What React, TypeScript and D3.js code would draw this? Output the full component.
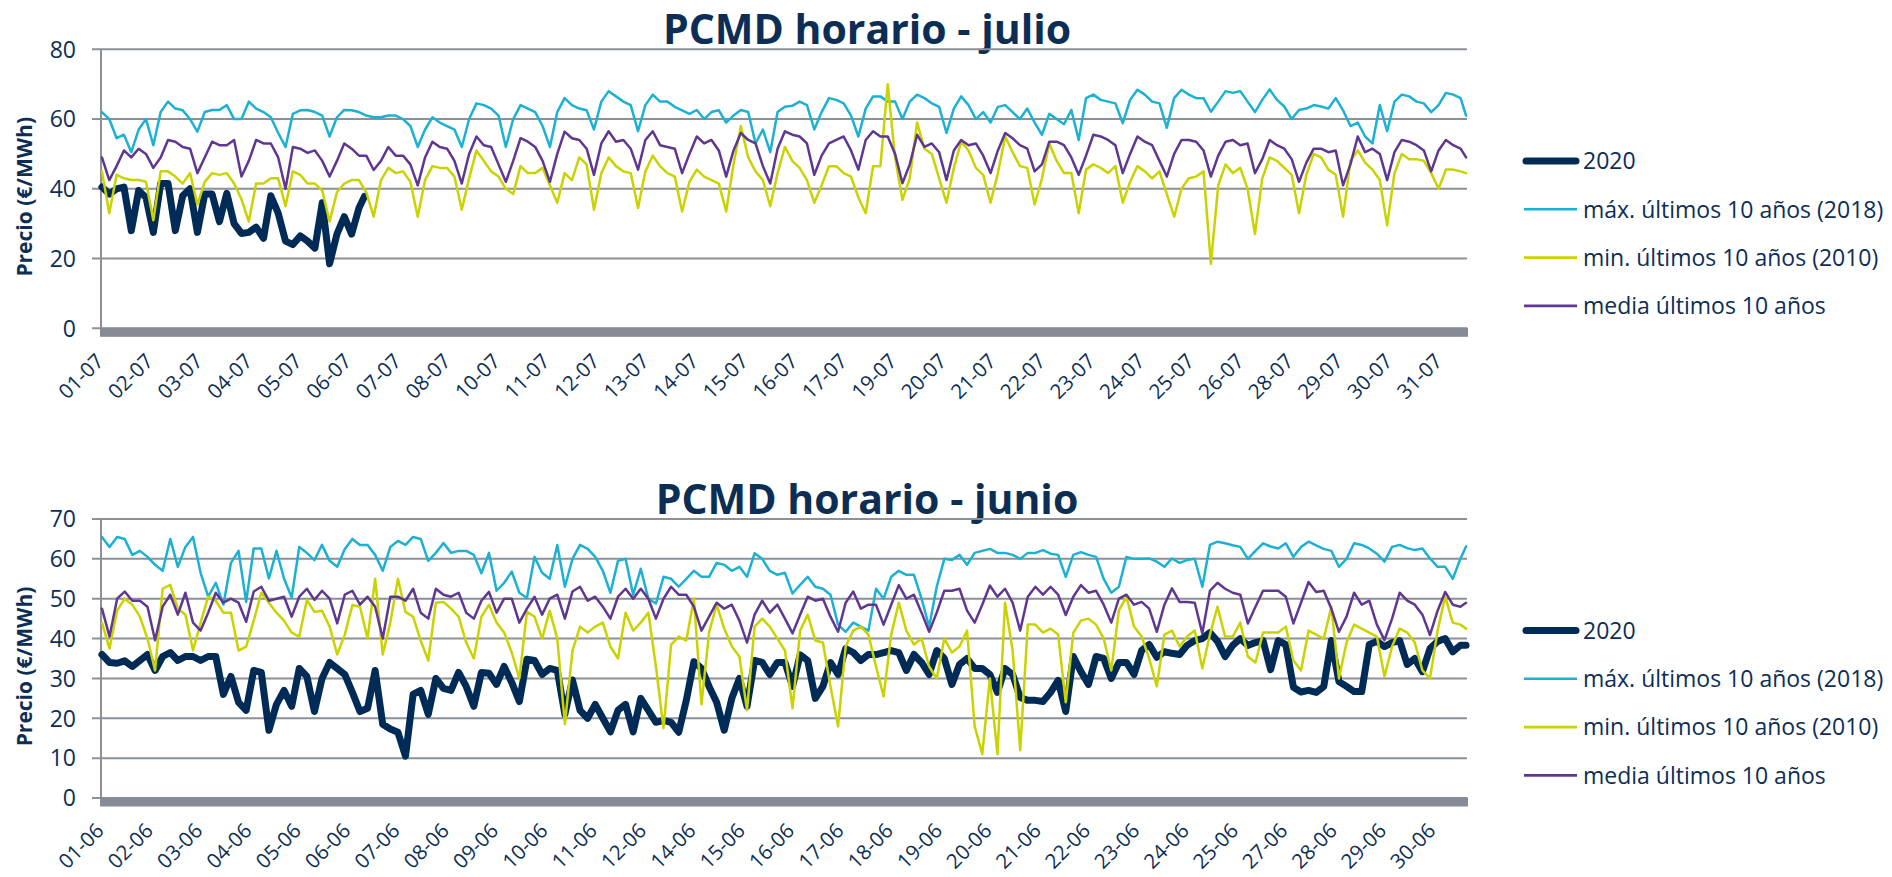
import React from 'react';
import * as d3 from 'd3';

// el último valor de cada serie es la última hora dibujada.

const seriesNames = ['2020', 'máx. últimos 10 años (2018)', 'min. últimos 10 años (2010)', 'media últimos 10 años'];
const seriesColors = ['#002b57', '#1cb1d3', '#cad300', '#5f3791'];
const seriesWidths = [7, 2.5, 2.5, 2.5];

// ---- julio ----
const julio2020 = [
  40.5, 38.5, 40, 40.5, 28, 39.5,
  37.5, 27.5, 41.5, 41.5, 28, 38,
  40, 27.5, 38.5, 38.5, 30.6, 38.7,
  30, 27.2, 27.5, 29, 25.8, 38,
  33, 25, 24, 26.5, 25, 23,
  36, 18.5, 27, 32, 27, 34.5,
  37.8,
];
const julioMax = [
  62, 60, 54.5, 55.5, 50.5, 57,
  60, 52.5, 62, 65, 63, 62.5,
  60, 56.4, 62, 62.6, 62.6, 64,
  60, 60, 65, 63, 62, 60.5,
  56, 52, 61.5, 62.5, 62.6, 62,
  61, 55, 60.5, 62.6, 62.5, 62,
  61, 60.5, 60.5, 61, 61, 60,
  58, 52, 57, 60.5, 59, 58,
  57, 52, 60, 64.5, 64, 63,
  61, 52, 60, 64, 63, 62,
  58, 52, 62, 66, 64, 63,
  62.5, 57, 65, 68, 66.5, 65,
  64, 56.5, 64, 67, 65, 65,
  63.5, 62.5, 61.5, 62.6, 60, 62,
  62.5, 59, 61, 62.6, 62, 53,
  57, 50.5, 62, 63.5, 63.8, 65,
  64, 57, 62, 66, 65.5, 64.5,
  61, 55, 63, 66.5, 66.5, 65,
  65, 60, 65, 67, 66, 64.5,
  63.5, 56, 63, 66.5, 64, 60,
  62, 59, 63.5, 64, 62, 60,
  63, 59, 55.5, 61.5, 60, 58.5,
  62.6, 54, 66, 67, 65.5, 65,
  64.5, 58.8, 65.5, 68.4, 67, 65,
  64.5, 57.5, 66, 68.4, 67, 66,
  66, 62.1, 65, 68, 67.5, 68,
  65, 62, 65.5, 68.5, 65.5, 63.6,
  60, 62.6, 63, 64, 63.6, 63,
  66, 62.5, 58, 59, 55, 53,
  64, 56.5, 65, 67, 66.5, 65,
  64.5, 62, 64, 67.5, 67, 66,
  61,
];
const julioMin = [
  45, 33, 44, 43, 42.5, 42.5,
  42, 31, 45, 45, 43.5, 41.5,
  44.5, 35.5, 42, 44.5, 44, 44.5,
  41.5, 37, 30.6, 41.5, 41.5, 43,
  43, 35, 45, 44, 41.5, 41.5,
  39.5, 30.6, 39, 41.5, 42.5, 42.5,
  39, 32, 42.5, 46, 44.5, 45,
  42, 32, 42.5, 46.5, 46, 46,
  43.5, 34, 43, 51, 48, 45,
  43.5, 40, 38.5, 46.5, 44.5, 44.5,
  46, 41, 36, 44.5, 42.5, 49,
  47, 34, 44.5, 49, 46.5, 45,
  44.5, 34.5, 45, 49.5, 46.5, 44.5,
  43.5, 33.5, 42, 45.5, 43.5, 42.5,
  41.5, 33.5, 47, 58, 49, 45,
  42.5, 35, 44.5, 52, 48, 46,
  42.5, 36, 41, 46.5, 46.5, 44.5,
  43.5, 37.5, 33, 46.5, 46.5, 70,
  49, 36.8, 43, 59, 51.5, 50,
  43, 36, 46, 53.5, 51, 46,
  44, 36, 44.5, 55, 50.5, 46.5,
  46, 35.5, 43, 53, 48, 44.5,
  44.5, 33, 45.5, 47, 46, 44.5,
  46.5, 36, 42, 46.5, 45, 43,
  45, 38.5, 32, 40, 43, 43.5,
  45, 18.5, 41, 47, 44.5, 46,
  40, 27, 43, 49, 48, 46,
  44, 33, 44, 50, 49, 45.5,
  44, 32, 48, 51, 47.5, 45.5,
  42.5, 29.5, 44.5, 50, 48.5, 48.5,
  48, 44.5, 40, 45.5, 45.5, 45,
  44.5,
];
const julioMedia = [
  49, 42.5, 46.5, 51, 49, 51.5,
  50, 46, 49, 54, 53.5, 52,
  51.5, 44.5, 49, 53.5, 52.5, 52.5,
  54, 43.5, 48, 54, 53, 53,
  49, 40, 52, 51.5, 50.3, 51,
  48, 43.5, 48, 53, 51.5, 49.5,
  49.5, 45.4, 48, 52, 49.5, 49.5,
  47, 41, 49, 53.5, 52, 51.5,
  48, 41.5, 50, 55, 52.5, 52,
  47, 42, 48, 54.5, 53.5, 52,
  48, 42, 50, 56.4, 54.5, 54,
  51.5, 44, 53, 56.5, 53.5, 54,
  51.5, 45.5, 54, 56.5, 52.5, 52,
  51.5, 44.5, 50, 55, 53, 54,
  51, 43.5, 51, 56, 54, 53,
  46.5, 41.5, 51.5, 56.5, 55.5, 55,
  53, 44, 49.5, 53, 54, 55,
  51, 45.5, 54, 56.5, 55, 55,
  50, 41.6, 47, 55.5, 52, 53,
  50.5, 42.5, 51, 54, 52.5, 53,
  49.5, 44.5, 51, 56, 54.5, 52.5,
  51.5, 45, 47, 53.5, 53.5, 52.5,
  49, 44, 49.5, 55.5, 55, 54,
  52.5, 44.5, 50, 55, 53.5, 52.5,
  48, 43.5, 50, 54, 54, 53.5,
  51, 43.5, 49.5, 53.5, 54, 52.5,
  53, 44.5, 48.5, 54, 52.5, 51.5,
  48.5, 42, 47.5, 51.5, 51.5, 50.5,
  51, 41, 47, 55, 50.5, 51.5,
  50, 42.5, 50.5, 54, 53.5, 52.5,
  51, 45, 51, 54, 52.5, 51.5,
  49,
];
const julioLabels = [
  '01-07', '02-07', '03-07', '04-07', '05-07', '06-07', '07-07', '08-07', '10-07', '11-07',
  '12-07', '13-07', '14-07', '15-07', '16-07', '17-07', '19-07', '20-07', '21-07', '22-07',
  '23-07', '24-07', '25-07', '26-07', '28-07', '29-07', '30-07', '31-07',
];

// ---- junio ----
const junio2020 = [
  36, 34, 33.8, 34.4, 33, 34.5,
  36, 32, 35.5, 36.5, 34.5, 35.5,
  35.5, 34.5, 35.5, 35.5, 26, 30.5,
  24, 22, 32, 31.5, 17, 23.5,
  27, 23, 32.5, 30.5, 21.7, 30,
  34, 32.5, 31, 26.5, 21.7, 22.5,
  32, 18.5, 17.3, 16.5, 10.5, 26,
  27, 21, 30, 27.5, 27, 31.5,
  28, 23, 31.5, 31.3, 28.5, 33,
  29, 24.2, 34.8, 34.5, 31, 32.5,
  32, 21, 29.6, 22, 20, 23.5,
  20, 16.6, 22, 23.5, 16.6, 25,
  22, 19, 19.5, 19, 16.5, 24.5,
  34.2, 32.5, 28, 24, 17, 25,
  30, 23, 34.5, 34, 31, 34,
  34, 28, 35.9, 34.5, 25, 28,
  34, 31, 37.5, 36.5, 34.5, 36,
  36, 36.5, 37, 36.5, 32, 36,
  34, 31, 37, 35, 28.5, 33.5,
  35, 32.5, 32.5, 31, 26.5, 32.5,
  31, 25.2, 24.5, 24.5, 24.2, 26.5,
  29.5, 21.7, 35.5, 31.7, 28.5, 35.5,
  35, 30, 34, 34, 31, 37,
  38.5, 35.3, 36.7, 36.3, 36, 38.3,
  39.5, 40, 41.5, 39.3, 35.5, 38.3,
  40, 38.3, 39, 39.5, 32.2, 39.5,
  38.5, 27.8, 26.6, 27, 26.5, 28,
  39.5, 29.2, 28, 26.7, 26.7, 38.5,
  39.3, 38, 39, 39.5, 33.5, 35,
  31.7, 37.5, 39.3, 40, 36.7, 38.3,
  38.3,
];
const junioMax = [
  65.5, 63, 65.5, 65, 61, 62,
  60.5, 58.5, 57, 65, 58, 63,
  65.5, 56.5, 50.5, 54, 48.5, 59,
  62, 49.2, 62.6, 62.6, 55.1, 62,
  55, 50.3, 63, 61.5, 59.7, 63.5,
  59.5, 58, 62.5, 65, 63.5, 63.5,
  61, 57, 63, 64.5, 63.5, 65.5,
  65, 59.5, 61.5, 64, 61.5, 62,
  62, 61, 56.4, 61.5, 52, 54,
  56.8, 51.5, 50.2, 60.5, 56.5, 55,
  63.5, 53, 60, 63.5, 62.5, 60.5,
  57, 51.5, 59.5, 60, 51, 57.5,
  50, 48.8, 55.5, 55, 53, 55,
  57, 55.5, 55.5, 59, 58.5, 57,
  58, 55.5, 61.4, 60, 57, 56,
  56.5, 51.3, 53.5, 55.5, 53, 52.5,
  51, 43.5, 41.7, 44, 43, 42,
  52.5, 50, 55.5, 57, 56, 56,
  50, 43, 53, 60, 59.7, 61,
  58.5, 61.5, 62, 62.5, 61.5, 61.5,
  61, 60, 61.5, 61.5, 62.2, 61.3,
  61, 55.5, 61, 61.7, 61, 60.5,
  55, 51.5, 53, 60.5, 60, 60,
  60.1, 59.3, 58, 60.1, 59, 59.7,
  60, 53, 63.5, 64.3, 63.9, 63.4,
  63, 60, 62, 63.9, 63.1, 62.6,
  63.9, 60.5, 63, 64.3, 63.4, 62.5,
  62, 58, 60, 63.9, 63.5, 62.6,
  61.3, 59.3, 63, 63.5, 62.7, 62.2,
  62.6, 60.1, 58, 58, 55, 60,
  63.1,
];
const junioMin = [
  44, 37.5, 47, 50, 48.5, 45.5,
  40, 32, 52.5, 53.5, 47.5, 46,
  37, 44, 50.5, 49.5, 46.5, 46.5,
  37, 38, 44.5, 51.5, 49, 46.5,
  44.5, 41.5, 40.5, 49.7, 46.7, 47,
  43, 36, 41, 48.4, 48, 40,
  55, 36, 44, 55, 46.7, 45.5,
  39.5, 34.5, 49, 49.2, 47.5, 45.5,
  39, 35, 45.5, 48.5, 44, 41.5,
  36.5, 30, 46.7, 45.5, 40, 47,
  40, 18.5, 37, 43, 41.5, 43,
  44, 38, 35, 46.5, 42, 44,
  46.5, 33, 17.5, 38.5, 40.5, 39.5,
  50, 23.5, 41.5, 48.5, 42.5, 38,
  35.5, 22, 43, 45, 43, 40,
  37, 22.5, 42, 46, 39.5, 39,
  28, 18, 38, 42, 43, 41,
  33, 25.5, 41, 49, 42, 38.5,
  40, 33, 30, 40, 36.5, 38,
  42, 18, 11, 30, 11, 49,
  37, 12, 43.5, 43.5, 41.5, 42.5,
  41, 24, 41.5, 44.5, 45, 43.5,
  40, 32, 47, 50.5, 43, 40.5,
  35, 28, 41, 42, 38, 40.5,
  42, 32.5, 41, 48, 40.5, 40.5,
  44, 35.5, 34, 41.5, 41.5, 41.5,
  43, 34.5, 32, 42, 41, 40,
  48, 30, 39, 43.5, 42.5, 41.5,
  40.5, 30.5, 38, 42.5, 41.5, 39,
  32, 30, 42, 50.5, 44, 43.5,
  42.5,
];
const junioMedia = [
  47.5, 40.5, 50, 51.8, 49.5, 49.5,
  48, 39.6, 48, 51, 46, 51.5,
  44, 42, 46.5, 51.5, 49, 50,
  49, 44.2, 51.8, 53, 49.5, 50,
  50.5, 45.5, 50.5, 52.5, 49.7, 52,
  50, 43.8, 51, 52, 48.5, 50.5,
  48, 40, 50.5, 50.5, 49.5, 52.5,
  46.5, 45, 52.5, 51, 50.5, 51.5,
  46.5, 45, 49.5, 51.7, 46.5, 50,
  50, 44, 47.5, 50.5, 46, 50,
  51, 45, 51.8, 53, 49.5, 50.5,
  48, 45, 50.5, 52.5, 50, 52.5,
  50, 45, 50, 53, 51, 51,
  48, 42, 45.5, 49, 47.5, 48.5,
  44.5, 39, 46, 49.5, 46.5, 48.5,
  45, 41.3, 46, 50.5, 49.5, 50,
  45.5, 41.7, 49, 51.8, 47.5, 48.5,
  48.5, 43.5, 48.5, 53.4, 50, 51,
  46.5, 41.7, 46.5, 52, 52, 52.5,
  47, 44, 48.5, 53.3, 50.5, 52.5,
  49, 42, 50.5, 53, 51, 53,
  51, 45.9, 50.5, 53.4, 51.5, 52,
  48.5, 44, 50, 51, 48.5, 49.2,
  47.5, 41.7, 48.5, 52.6, 49.2, 49.2,
  49, 41.3, 52, 54, 52.5, 51.5,
  51, 43.8, 48, 52, 52, 52,
  50.5, 43.8, 49, 54.2, 51.7, 52,
  47.5, 41.7, 45.5, 51.5, 48.5, 49.5,
  43.5, 39.6, 45, 51.5, 49.5, 48.5,
  46, 40.9, 47, 51.7, 48.5, 48,
  49,
];
const junioLabels = [
  '01-06', '02-06', '03-06', '04-06', '05-06', '06-06', '07-06', '08-06', '09-06', '10-06',
  '11-06', '12-06', '14-06', '15-06', '16-06', '17-06', '18-06', '19-06', '20-06', '21-06',
  '22-06', '23-06', '24-06', '25-06', '27-06', '28-06', '29-06', '30-06',
];

const FONT = "'Open Sans', 'Noto Sans', sans-serif";
const TEXT = '#0c2e54';
const GRID = '#8b9099';
const PLOT_LEFT = 101;
const PLOT_RIGHT = 1467;
const SAMPLE_STEP = 4;

interface PanelProps {
  title: string;
  top: number;
  bottom: number;
  yMax: number;
  yStep: number;
  nHours: number;
  labels: string[];
  labelStep: number;
  series: { values: number[]; lastHour: number }[];
  offsetY: number;
}

const Panel: React.FC<PanelProps> = ({ title, top, bottom, yMax, yStep, nHours, labels, labelStep, series, offsetY }) => {
  const x = d3.scaleLinear().domain([0, nHours]).range([PLOT_LEFT, PLOT_RIGHT]);
  const y = d3.scaleLinear().domain([0, yMax]).range([bottom, top]);
  const ticks = d3.range(0, yMax + 0.001, yStep);

  return (
    <g>
      <text x={867} y={offsetY + 44} textAnchor="middle" fontFamily={FONT} fontWeight={700} fontSize={41} fill={TEXT}>
        {title}
      </text>

      {/* rejilla */}
      {ticks.map((t) => (
        <g key={t}>
          <line x1={92} x2={PLOT_RIGHT} y1={y(t)} y2={y(t)} stroke={GRID} strokeWidth={2} />
          <text x={76} y={y(t)} dy="0.36em" textAnchor="end" fontFamily={FONT} fontSize={23} fill={TEXT}>
            {t}
          </text>
        </g>
      ))}
      <line x1={PLOT_LEFT} x2={PLOT_LEFT} y1={top} y2={bottom} stroke={GRID} strokeWidth={2} />

      <text
        transform={`translate(32, ${(top + bottom) / 2 + 8}) rotate(-90)`}
        textAnchor="middle"
        fontFamily={FONT}
        fontWeight={700}
        fontSize={21}
        fill={TEXT}
      >
        Precio (€/MWh)
      </text>

      {/* series */}
      {series.map((s, k) => {
        const line = d3
          .line<number>()
          .x((_, i) => x(Math.min(i * SAMPLE_STEP, s.lastHour) + 0.5))
          .y((d) => y(d))
          .curve(d3.curveLinear);
        return (
          <path
            key={k}
            d={line(s.values) || ''}
            fill="none"
            stroke={seriesColors[k]}
            strokeWidth={seriesWidths[k]}
            strokeLinejoin="round"
            strokeLinecap="round"
          />
        );
      })}

      {/* eje x */}
      <rect x={PLOT_LEFT - 1} y={bottom - 0.5} width={PLOT_RIGHT - PLOT_LEFT + 2} height={9} fill="#868b96" />
      {labels.map((lab, k) => {
        const px = x(k * labelStep + 0.5) - 2;
        const py = bottom + 29;
        return (
          <text
            key={lab}
            transform={`translate(${px}, ${py}) rotate(-45)`}
            dy="0.35em"
            textAnchor="end"
            fontFamily={FONT}
            fontSize={20.5}
            fill={TEXT}
          >
            {lab}
          </text>
        );
      })}

      {/* leyenda */}
      {seriesNames.map((name, k) => {
        const ly = offsetY + 161 + k * 48.3;
        return (
          <g key={name}>
            <line
              x1={k === 0 ? 1526 : 1524}
              x2={k === 0 ? 1576 : 1577}
              y1={ly}
              y2={ly}
              stroke={seriesColors[k]}
              strokeWidth={k === 0 ? 7 : 2.6}
              strokeLinecap={k === 0 ? 'round' : 'butt'}
            />
            <text x={1583} y={ly} dy="0.36em" fontFamily={FONT} fontSize={23} fill={TEXT}>
              {name}
            </text>
          </g>
        );
      })}
    </g>
  );
};

export default function App() {
  return (
    <div style={{ position: 'absolute', left: 0, top: 0, width: 1892, height: 877, background: '#fff' }}>
      <svg width={1892} height={877} viewBox="0 0 1892 877">
        <rect width={1892} height={877} fill="#fff" />
        <Panel
          title="PCMD horario - julio"
          top={49.3}
          bottom={328.3}
          yMax={80}
          yStep={20}
          nHours={744}
          labels={julioLabels}
          labelStep={27}
          offsetY={0}
          series={[
            { values: julio2020, lastHour: 143 },
            { values: julioMax, lastHour: 743 },
            { values: julioMin, lastHour: 743 },
            { values: julioMedia, lastHour: 743 },
          ]}
        />
        <Panel
          title="PCMD horario - junio"
          top={519}
          bottom={798}
          yMax={70}
          yStep={10}
          nHours={720}
          labels={junioLabels}
          labelStep={26}
          offsetY={469.5}
          series={[
            { values: junio2020, lastHour: 719 },
            { values: junioMax, lastHour: 719 },
            { values: junioMin, lastHour: 719 },
            { values: junioMedia, lastHour: 719 },
          ]}
        />
      </svg>
    </div>
  );
}
